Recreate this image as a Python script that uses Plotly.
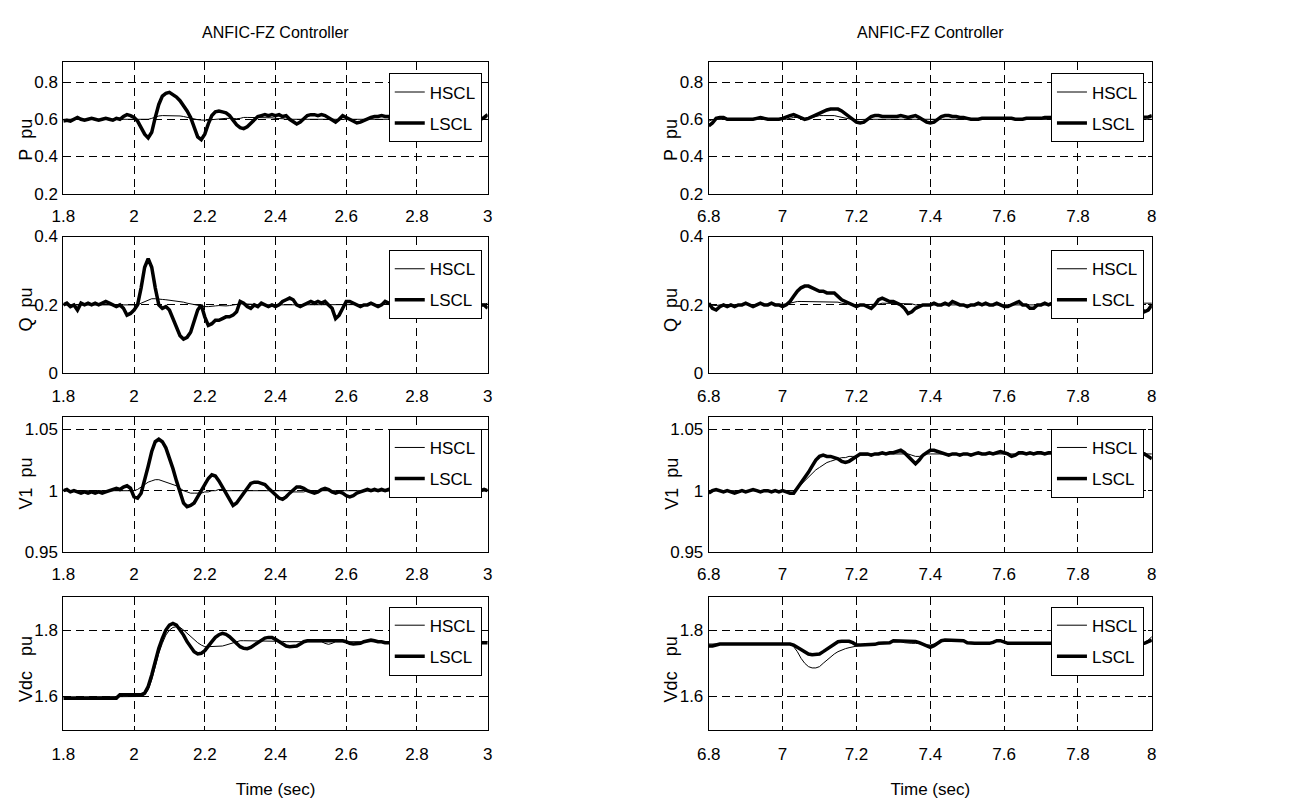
import numpy as np
import plotly.graph_objects as go

# ---------------------------------------------------------------- time bases
t_fault = np.round(np.arange(1.80, 3.0001, 0.01), 2)   # 1.80 ... 3.00 s
t_step = np.round(np.arange(6.80, 8.0001, 0.01), 2)    # 6.80 ... 8.00 s

# ---------------------------------------------------------------- left column (1.8 - 3 s)
p_lscl_a = [
    0.590, 0.595, 0.590, 0.600, 0.610, 0.600, 0.595, 0.600, 0.605, 0.600,
    0.595, 0.600, 0.605, 0.600, 0.595, 0.605, 0.600, 0.615, 0.625, 0.620,
    0.610, 0.590, 0.555, 0.520, 0.500, 0.530, 0.610, 0.680, 0.725, 0.740,
    0.745, 0.735, 0.720, 0.700, 0.675, 0.645, 0.610, 0.555, 0.505, 0.490,
    0.520, 0.575, 0.620, 0.640, 0.645, 0.640, 0.635, 0.620, 0.595, 0.570,
    0.555, 0.550, 0.560, 0.580, 0.600, 0.615, 0.620, 0.625, 0.620, 0.625,
    0.620, 0.625, 0.615, 0.620, 0.600, 0.585, 0.575, 0.585, 0.600, 0.620,
    0.625, 0.625, 0.620, 0.625, 0.620, 0.610, 0.600, 0.585, 0.600, 0.620,
    0.610, 0.600, 0.590, 0.580, 0.585, 0.595, 0.600, 0.610, 0.615, 0.615,
    0.620, 0.615, 0.615, 0.600, 0.595, 0.600, 0.595, 0.600, 0.595, 0.590,
    0.595, 0.600, 0.595, 0.590, 0.600, 0.595, 0.600, 0.595, 0.600, 0.595,
    0.590, 0.595, 0.600, 0.595, 0.600, 0.595, 0.590, 0.595, 0.600, 0.610,
    0.625,
]
p_hscl_a = [
    0.600, 0.600, 0.600, 0.600, 0.600, 0.600, 0.600, 0.600, 0.600, 0.600,
    0.600, 0.600, 0.600, 0.600, 0.600, 0.600, 0.600, 0.600, 0.600, 0.600,
    0.600, 0.600, 0.598, 0.598, 0.600, 0.605, 0.612, 0.618, 0.620, 0.620,
    0.620, 0.620, 0.620, 0.618, 0.615, 0.610, 0.605, 0.600, 0.598, 0.596,
    0.595, 0.595, 0.598, 0.600, 0.605, 0.605, 0.605, 0.605, 0.603, 0.603,
    0.605, 0.610, 0.610, 0.610, 0.610, 0.608, 0.608, 0.610, 0.610, 0.608,
    0.605, 0.605, 0.603, 0.600, 0.600, 0.600, 0.600, 0.600, 0.600, 0.600,
    0.600, 0.600, 0.600, 0.600, 0.600, 0.600, 0.600, 0.600, 0.600, 0.600,
    0.600, 0.600, 0.600, 0.600, 0.600, 0.600, 0.600, 0.600, 0.600, 0.600,
    0.600, 0.600, 0.600, 0.600, 0.600, 0.600, 0.600, 0.600, 0.600, 0.600,
    0.600, 0.600, 0.600, 0.600, 0.600, 0.600, 0.600, 0.600, 0.600, 0.600,
    0.600, 0.600, 0.600, 0.600, 0.600, 0.600, 0.600, 0.600, 0.600, 0.600,
    0.600,
]
q_lscl_a = [
    0.200, 0.205, 0.195, 0.200, 0.185, 0.205, 0.200, 0.205, 0.200, 0.205,
    0.200, 0.205, 0.210, 0.205, 0.200, 0.195, 0.200, 0.190, 0.170, 0.175,
    0.185, 0.200, 0.250, 0.310, 0.335, 0.310, 0.250, 0.200, 0.190, 0.195,
    0.185, 0.160, 0.130, 0.110, 0.100, 0.105, 0.120, 0.150, 0.185, 0.200,
    0.165, 0.140, 0.145, 0.155, 0.155, 0.160, 0.165, 0.165, 0.170, 0.180,
    0.210, 0.205, 0.195, 0.190, 0.200, 0.195, 0.205, 0.200, 0.195, 0.200,
    0.195, 0.200, 0.210, 0.215, 0.220, 0.215, 0.200, 0.195, 0.200, 0.205,
    0.210, 0.205, 0.210, 0.205, 0.210, 0.200, 0.190, 0.160, 0.170, 0.190,
    0.210, 0.210, 0.205, 0.200, 0.195, 0.200, 0.200, 0.205, 0.200, 0.195,
    0.200, 0.210, 0.205, 0.200, 0.195, 0.200, 0.205, 0.200, 0.200, 0.205,
    0.200, 0.195, 0.200, 0.205, 0.200, 0.200, 0.195, 0.200, 0.205, 0.200,
    0.200, 0.205, 0.200, 0.195, 0.200, 0.200, 0.205, 0.200, 0.200, 0.200,
    0.190,
]
q_hscl_a = [
    0.200, 0.200, 0.200, 0.200, 0.200, 0.200, 0.200, 0.200, 0.200, 0.200,
    0.200, 0.200, 0.200, 0.200, 0.200, 0.200, 0.200, 0.200, 0.200, 0.200,
    0.200, 0.200, 0.205, 0.210, 0.215, 0.218, 0.218, 0.216, 0.216, 0.215,
    0.214, 0.213, 0.212, 0.210, 0.208, 0.205, 0.203, 0.200, 0.198, 0.197,
    0.195, 0.195, 0.195, 0.197, 0.198, 0.197, 0.197, 0.198, 0.200, 0.202,
    0.203, 0.203, 0.203, 0.202, 0.202, 0.201, 0.200, 0.200, 0.200, 0.200,
    0.200, 0.200, 0.200, 0.200, 0.200, 0.200, 0.200, 0.200, 0.200, 0.200,
    0.200, 0.200, 0.200, 0.200, 0.200, 0.200, 0.200, 0.200, 0.200, 0.200,
    0.200, 0.200, 0.200, 0.200, 0.200, 0.200, 0.200, 0.200, 0.200, 0.200,
    0.200, 0.200, 0.200, 0.200, 0.200, 0.200, 0.200, 0.200, 0.200, 0.200,
    0.200, 0.200, 0.200, 0.200, 0.200, 0.200, 0.200, 0.200, 0.200, 0.200,
    0.200, 0.200, 0.200, 0.200, 0.200, 0.200, 0.200, 0.200, 0.200, 0.202,
    0.205,
]
v1_lscl_a = [
    1.000, 1.001, 0.999, 1.000, 0.999, 0.998, 0.999, 0.998, 0.999, 0.998,
    0.999, 0.998, 0.999, 1.000, 1.001, 1.002, 1.001, 1.003, 1.004, 1.002,
    0.995, 0.994, 0.998, 1.008, 1.020, 1.032, 1.040, 1.042, 1.040, 1.035,
    1.027, 1.018, 1.008, 0.998, 0.990, 0.987, 0.988, 0.990, 0.995, 1.000,
    1.005, 1.010, 1.013, 1.012, 1.008, 1.003, 0.998, 0.993, 0.988, 0.990,
    0.994, 0.999, 1.003, 1.006, 1.007, 1.007, 1.006, 1.005, 1.002, 0.999,
    0.997, 0.994, 0.993, 0.995, 0.998, 1.001, 1.003, 1.003, 1.002, 1.000,
    0.999, 0.998, 0.999, 1.001, 1.002, 1.001, 0.999, 0.998, 0.999, 0.998,
    0.996, 0.995, 0.996, 0.998, 0.999, 1.000, 1.001, 1.000, 1.001, 1.000,
    1.001, 1.000, 1.001, 1.000, 0.999, 1.000, 1.001, 1.002, 1.001, 1.002,
    1.001, 1.000, 1.001, 1.000, 1.001, 1.002, 1.001, 1.000, 1.001, 1.000,
    1.001, 1.000, 1.001, 1.000, 1.000, 1.001, 1.000, 1.001, 1.000, 1.001,
    1.000,
]
v1_hscl_a = [
    1.000, 1.000, 1.000, 1.000, 1.000, 1.000, 1.000, 1.000, 1.000, 1.000,
    1.000, 1.000, 1.000, 1.000, 1.000, 1.000, 1.000, 1.000, 1.000, 1.000,
    1.000, 1.001, 1.003, 1.005, 1.007, 1.008, 1.009, 1.009, 1.008, 1.007,
    1.006, 1.005, 1.004, 1.002, 1.000, 0.999, 0.998, 0.998, 0.998, 0.998,
    0.999, 0.999, 1.000, 1.000, 1.001, 1.001, 1.000, 1.000, 1.000, 1.000,
    1.000, 1.000, 1.000, 1.000, 1.000, 1.000, 1.000, 1.000, 1.000, 1.000,
    1.000, 1.000, 1.000, 1.000, 1.000, 0.999, 0.999, 0.999, 0.999, 1.000,
    1.000, 1.000, 1.000, 1.000, 1.000, 1.000, 1.000, 1.000, 1.000, 1.000,
    1.000, 1.000, 1.000, 1.000, 1.000, 1.000, 1.000, 1.000, 1.000, 1.000,
    1.000, 1.000, 1.000, 1.000, 1.000, 1.000, 1.000, 1.000, 1.000, 1.000,
    1.000, 1.000, 1.000, 1.000, 1.000, 1.000, 1.000, 1.000, 1.000, 1.000,
    1.000, 1.000, 1.000, 1.000, 1.000, 1.000, 1.000, 1.000, 1.000, 1.000,
    1.000,
]
vdc_lscl_a = [
    1.595, 1.595, 1.595, 1.595, 1.595, 1.595, 1.595, 1.595, 1.595, 1.595,
    1.595, 1.595, 1.595, 1.595, 1.595, 1.595, 1.605, 1.605, 1.605, 1.605,
    1.605, 1.605, 1.605, 1.610, 1.630, 1.665, 1.705, 1.745, 1.775, 1.800,
    1.815, 1.820, 1.815, 1.800, 1.785, 1.765, 1.750, 1.735, 1.728, 1.730,
    1.738, 1.750, 1.765, 1.778, 1.786, 1.790, 1.787, 1.780, 1.770, 1.760,
    1.750, 1.745, 1.744, 1.748, 1.755, 1.765, 1.772, 1.776, 1.778, 1.778,
    1.772, 1.765, 1.758, 1.752, 1.750, 1.750, 1.752, 1.758, 1.765, 1.768,
    1.768, 1.768, 1.768, 1.767, 1.768, 1.768, 1.768, 1.767, 1.768, 1.768,
    1.765, 1.760, 1.758, 1.758, 1.760, 1.765, 1.768, 1.770, 1.768, 1.765,
    1.765, 1.762, 1.762, 1.762, 1.762, 1.762, 1.762, 1.762, 1.762, 1.762,
    1.762, 1.762, 1.762, 1.762, 1.762, 1.762, 1.762, 1.762, 1.762, 1.762,
    1.762, 1.762, 1.762, 1.762, 1.762, 1.762, 1.762, 1.762, 1.762, 1.762,
    1.762,
]
vdc_hscl_a = [
    1.598, 1.598, 1.598, 1.598, 1.598, 1.598, 1.598, 1.598, 1.598, 1.598,
    1.598, 1.598, 1.598, 1.598, 1.598, 1.598, 1.598, 1.598, 1.598, 1.598,
    1.600, 1.600, 1.600, 1.605, 1.620, 1.650, 1.690, 1.730, 1.760, 1.785,
    1.800, 1.808, 1.810, 1.808, 1.800, 1.790, 1.780, 1.770, 1.762, 1.755,
    1.750, 1.750, 1.750, 1.750, 1.750, 1.752, 1.755, 1.758, 1.762, 1.765,
    1.768, 1.768, 1.768, 1.768, 1.768, 1.768, 1.768, 1.768, 1.768, 1.768,
    1.768, 1.768, 1.766, 1.765, 1.765, 1.765, 1.765, 1.765, 1.765, 1.765,
    1.765, 1.765, 1.765, 1.765, 1.760, 1.757, 1.760, 1.765, 1.765, 1.765,
    1.765, 1.765, 1.765, 1.765, 1.765, 1.765, 1.765, 1.765, 1.765, 1.765,
    1.765, 1.765, 1.765, 1.765, 1.765, 1.765, 1.765, 1.765, 1.765, 1.765,
    1.765, 1.765, 1.765, 1.765, 1.765, 1.765, 1.765, 1.765, 1.765, 1.765,
    1.765, 1.765, 1.765, 1.765, 1.765, 1.765, 1.765, 1.765, 1.765, 1.765,
    1.765,
]

# ---------------------------------------------------------------- right column (6.8 - 8 s)
p_lscl_b = [
    0.565, 0.580, 0.605, 0.610, 0.610, 0.600, 0.600, 0.600, 0.600, 0.600,
    0.600, 0.600, 0.600, 0.605, 0.610, 0.605, 0.600, 0.600, 0.600, 0.600,
    0.605, 0.615, 0.620, 0.625, 0.615, 0.605, 0.600, 0.605, 0.615, 0.625,
    0.635, 0.640, 0.650, 0.655, 0.655, 0.655, 0.645, 0.630, 0.610, 0.595,
    0.585, 0.580, 0.585, 0.600, 0.615, 0.620, 0.620, 0.615, 0.615, 0.615,
    0.615, 0.615, 0.620, 0.615, 0.610, 0.615, 0.620, 0.610, 0.595, 0.585,
    0.580, 0.585, 0.600, 0.615, 0.620, 0.620, 0.615, 0.615, 0.610, 0.610,
    0.605, 0.600, 0.600, 0.600, 0.605, 0.605, 0.605, 0.605, 0.605, 0.605,
    0.605, 0.605, 0.605, 0.600, 0.600, 0.600, 0.605, 0.605, 0.605, 0.605,
    0.605, 0.610, 0.610, 0.610, 0.610, 0.610, 0.610, 0.610, 0.610, 0.610,
    0.610, 0.610, 0.610, 0.610, 0.610, 0.610, 0.610, 0.610, 0.610, 0.610,
    0.610, 0.610, 0.610, 0.610, 0.610, 0.610, 0.610, 0.610, 0.610, 0.612,
    0.620,
]
p_hscl_b = [
    0.590, 0.598, 0.600, 0.600, 0.600, 0.600, 0.600, 0.600, 0.600, 0.600,
    0.600, 0.600, 0.600, 0.600, 0.600, 0.600, 0.600, 0.600, 0.600, 0.600,
    0.600, 0.600, 0.605, 0.610, 0.610, 0.605, 0.600, 0.605, 0.610, 0.615,
    0.620, 0.620, 0.620, 0.620, 0.620, 0.615, 0.610, 0.605, 0.600, 0.598,
    0.598, 0.600, 0.600, 0.600, 0.600, 0.600, 0.600, 0.600, 0.600, 0.600,
    0.600, 0.600, 0.600, 0.600, 0.600, 0.600, 0.600, 0.600, 0.598, 0.596,
    0.596, 0.598, 0.600, 0.600, 0.600, 0.600, 0.600, 0.600, 0.600, 0.600,
    0.600, 0.600, 0.600, 0.600, 0.600, 0.600, 0.600, 0.600, 0.600, 0.600,
    0.600, 0.600, 0.600, 0.600, 0.600, 0.600, 0.600, 0.600, 0.600, 0.600,
    0.600, 0.600, 0.600, 0.600, 0.600, 0.600, 0.600, 0.600, 0.600, 0.600,
    0.600, 0.600, 0.600, 0.600, 0.600, 0.600, 0.600, 0.600, 0.600, 0.600,
    0.600, 0.600, 0.600, 0.600, 0.600, 0.600, 0.600, 0.600, 0.600, 0.600,
    0.600,
]
q_lscl_b = [
    0.205, 0.190, 0.185, 0.195, 0.200, 0.195, 0.200, 0.195, 0.200, 0.200,
    0.205, 0.200, 0.195, 0.200, 0.205, 0.200, 0.200, 0.205, 0.200, 0.200,
    0.195, 0.200, 0.210, 0.225, 0.240, 0.250, 0.255, 0.255, 0.250, 0.245,
    0.240, 0.240, 0.235, 0.235, 0.235, 0.225, 0.215, 0.210, 0.205, 0.200,
    0.195, 0.200, 0.200, 0.195, 0.190, 0.200, 0.215, 0.220, 0.215, 0.210,
    0.210, 0.205, 0.200, 0.190, 0.175, 0.180, 0.190, 0.195, 0.200, 0.200,
    0.200, 0.205, 0.200, 0.200, 0.205, 0.200, 0.210, 0.205, 0.200, 0.200,
    0.195, 0.200, 0.200, 0.205, 0.200, 0.205, 0.200, 0.200, 0.205, 0.200,
    0.195, 0.195, 0.200, 0.205, 0.210, 0.200, 0.200, 0.190, 0.190, 0.200,
    0.200, 0.205, 0.200, 0.205, 0.200, 0.200, 0.200, 0.205, 0.200, 0.200,
    0.200, 0.205, 0.200, 0.200, 0.200, 0.205, 0.200, 0.200, 0.205, 0.200,
    0.200, 0.200, 0.200, 0.200, 0.200, 0.200, 0.200, 0.190, 0.180, 0.185,
    0.200,
]
q_hscl_b = [
    0.200, 0.198, 0.198, 0.200, 0.200, 0.200, 0.200, 0.200, 0.200, 0.200,
    0.200, 0.200, 0.200, 0.200, 0.200, 0.200, 0.200, 0.200, 0.200, 0.200,
    0.200, 0.202, 0.205, 0.208, 0.210, 0.210, 0.210, 0.210, 0.210, 0.210,
    0.210, 0.210, 0.210, 0.208, 0.210, 0.208, 0.205, 0.203, 0.202, 0.200,
    0.200, 0.200, 0.200, 0.200, 0.200, 0.200, 0.202, 0.205, 0.205, 0.205,
    0.205, 0.205, 0.205, 0.205, 0.205, 0.203, 0.200, 0.200, 0.200, 0.200,
    0.200, 0.200, 0.200, 0.200, 0.200, 0.200, 0.200, 0.200, 0.200, 0.200,
    0.200, 0.200, 0.200, 0.200, 0.200, 0.200, 0.200, 0.200, 0.200, 0.200,
    0.200, 0.200, 0.200, 0.200, 0.200, 0.200, 0.200, 0.200, 0.200, 0.200,
    0.200, 0.200, 0.200, 0.200, 0.200, 0.200, 0.200, 0.200, 0.200, 0.200,
    0.200, 0.200, 0.200, 0.200, 0.200, 0.200, 0.200, 0.200, 0.200, 0.200,
    0.200, 0.200, 0.200, 0.200, 0.200, 0.200, 0.200, 0.200, 0.205, 0.205,
    0.205,
]
v1_lscl_b = [
    0.998, 1.000, 1.001, 1.000, 0.999, 1.000, 0.999, 0.998, 0.999, 1.000,
    0.999, 1.000, 1.001, 1.000, 0.999, 1.000, 1.000, 0.999, 1.000, 0.999,
    1.000, 0.999, 0.998, 0.998, 1.002, 1.006, 1.010, 1.015, 1.020, 1.025,
    1.028, 1.029, 1.028, 1.028, 1.027, 1.026, 1.024, 1.023, 1.024, 1.026,
    1.028, 1.030, 1.030, 1.030, 1.029, 1.030, 1.030, 1.031, 1.030, 1.031,
    1.031, 1.032, 1.033, 1.031, 1.028, 1.024, 1.022, 1.025, 1.029, 1.031,
    1.033, 1.033, 1.032, 1.031, 1.030, 1.029, 1.030, 1.030, 1.029, 1.030,
    1.030, 1.029, 1.030, 1.031, 1.030, 1.030, 1.031, 1.030, 1.031, 1.032,
    1.031, 1.030, 1.028, 1.029, 1.031, 1.031, 1.030, 1.031, 1.030, 1.031,
    1.031, 1.030, 1.031, 1.031, 1.030, 1.031, 1.032, 1.031, 1.032, 1.031,
    1.031, 1.032, 1.031, 1.032, 1.031, 1.031, 1.032, 1.031, 1.031, 1.032,
    1.032, 1.031, 1.032, 1.031, 1.031, 1.032, 1.031, 1.031, 1.030, 1.028,
    1.026,
]
v1_hscl_b = [
    1.000, 1.000, 1.000, 1.000, 1.000, 1.000, 1.000, 1.000, 1.000, 1.000,
    1.000, 1.000, 1.000, 1.000, 1.000, 1.000, 1.000, 1.000, 1.000, 1.000,
    1.000, 1.000, 1.000, 1.000, 1.002, 1.005, 1.008, 1.011, 1.014, 1.017,
    1.019, 1.021, 1.023, 1.024, 1.025, 1.026, 1.027, 1.027, 1.028, 1.028,
    1.028, 1.029, 1.029, 1.029, 1.030, 1.030, 1.030, 1.030, 1.030, 1.030,
    1.030, 1.030, 1.030, 1.030, 1.030, 1.029, 1.028, 1.028, 1.029, 1.030,
    1.030, 1.030, 1.030, 1.030, 1.030, 1.030, 1.030, 1.030, 1.030, 1.030,
    1.030, 1.030, 1.030, 1.030, 1.030, 1.030, 1.030, 1.030, 1.030, 1.030,
    1.030, 1.030, 1.030, 1.030, 1.030, 1.030, 1.030, 1.030, 1.030, 1.030,
    1.030, 1.030, 1.030, 1.030, 1.030, 1.030, 1.030, 1.030, 1.030, 1.030,
    1.030, 1.030, 1.030, 1.030, 1.030, 1.030, 1.030, 1.030, 1.030, 1.030,
    1.030, 1.030, 1.030, 1.030, 1.030, 1.030, 1.030, 1.030, 1.030, 1.030,
    1.030,
]
vdc_lscl_b = [
    1.752, 1.752, 1.755, 1.758, 1.758, 1.758, 1.758, 1.758, 1.758, 1.758,
    1.758, 1.758, 1.758, 1.758, 1.758, 1.758, 1.758, 1.758, 1.758, 1.758,
    1.758, 1.758, 1.758, 1.755, 1.748, 1.740, 1.733, 1.728, 1.726, 1.726,
    1.728, 1.735, 1.743, 1.752, 1.760, 1.765, 1.766, 1.766, 1.766, 1.762,
    1.755, 1.755, 1.755, 1.755, 1.755, 1.757, 1.760, 1.760, 1.760, 1.762,
    1.768, 1.768, 1.768, 1.768, 1.768, 1.768, 1.766, 1.762, 1.758, 1.752,
    1.748, 1.753, 1.760, 1.768, 1.770, 1.770, 1.770, 1.770, 1.770, 1.768,
    1.762, 1.760, 1.760, 1.760, 1.760, 1.760, 1.760, 1.763, 1.768, 1.768,
    1.763, 1.760, 1.760, 1.760, 1.760, 1.760, 1.760, 1.760, 1.760, 1.760,
    1.760, 1.760, 1.760, 1.760, 1.760, 1.760, 1.760, 1.760, 1.760, 1.760,
    1.760, 1.760, 1.760, 1.760, 1.760, 1.760, 1.760, 1.760, 1.760, 1.760,
    1.760, 1.760, 1.760, 1.760, 1.760, 1.760, 1.760, 1.760, 1.760, 1.765,
    1.770,
]
vdc_hscl_b = [
    1.758, 1.758, 1.758, 1.758, 1.758, 1.758, 1.758, 1.758, 1.758, 1.758,
    1.758, 1.758, 1.758, 1.758, 1.758, 1.758, 1.758, 1.758, 1.758, 1.758,
    1.758, 1.758, 1.758, 1.750, 1.735, 1.715, 1.700, 1.690, 1.686, 1.686,
    1.690, 1.700, 1.710, 1.720, 1.728, 1.735, 1.740, 1.744, 1.747, 1.750,
    1.752, 1.754, 1.755, 1.755, 1.755, 1.757, 1.760, 1.760, 1.760, 1.762,
    1.765, 1.765, 1.765, 1.762, 1.760, 1.760, 1.760, 1.760, 1.758, 1.755,
    1.755, 1.758, 1.762, 1.768, 1.768, 1.768, 1.768, 1.768, 1.768, 1.766,
    1.762, 1.760, 1.760, 1.760, 1.760, 1.760, 1.760, 1.763, 1.766, 1.766,
    1.762, 1.762, 1.762, 1.762, 1.762, 1.762, 1.762, 1.762, 1.762, 1.762,
    1.762, 1.762, 1.762, 1.762, 1.762, 1.762, 1.762, 1.762, 1.762, 1.762,
    1.762, 1.762, 1.762, 1.762, 1.762, 1.762, 1.762, 1.762, 1.762, 1.762,
    1.762, 1.762, 1.762, 1.762, 1.762, 1.762, 1.762, 1.762, 1.762, 1.770,
    1.780,
]

# ---------------------------------------------------------------- axis settings
x_ticks_a = [1.8, 2.0, 2.2, 2.4, 2.6, 2.8, 3.0]
x_labels_a = ["1.8", "2", "2.2", "2.4", "2.6", "2.8", "3"]
x_ticks_b = [6.8, 7.0, 7.2, 7.4, 7.6, 7.8, 8.0]
x_labels_b = ["6.8", "7", "7.2", "7.4", "7.6", "7.8", "8"]

quantities = [
    # (label, range, ticks, tick labels)
    ("P\u00a0\u00a0pu", [0.2, 0.91], [0.2, 0.4, 0.6, 0.8], ["0.2", "0.4", "0.6", "0.8"]),
    ("Q\u00a0\u00a0pu", [0.0, 0.4], [0.0, 0.2, 0.4], ["0", "0.2", "0.4"]),
    ("V1\u00a0\u00a0pu", [0.95, 1.06], [0.95, 1.0, 1.05], ["0.95", "1", "1.05"]),
    ("Vdc\u00a0\u00a0\u00a0pu", [1.5, 1.9], [1.6, 1.8], ["1.6", "1.8"]),
]
series_a = [(p_hscl_a, p_lscl_a), (q_hscl_a, q_lscl_a),
            (v1_hscl_a, v1_lscl_a), (vdc_hscl_a, vdc_lscl_a)]
series_b = [(p_hscl_b, p_lscl_b), (q_hscl_b, q_lscl_b),
            (v1_hscl_b, v1_lscl_b), (vdc_hscl_b, vdc_lscl_b)]

W, H = 1296, 810
FONT = "Liberation Sans Narrow, Arial Narrow, Liberation Sans, Arial, sans-serif"
cols_px = [(52, 482), (706, 1155)]
rows_px = [(54, 189), (233, 373), (418, 556), (602, 738)]
legend_top_px = [66, 247, 430, 612]
legend_right_px = [476, 1147]
ylabel_x_px = [14, 668]
ylabel_y_px = [134, 308, 486, 676]

fig = go.Figure()
layout = dict(
    width=W, height=H, autosize=False,
    margin=dict(l=0, r=0, t=0, b=0),
    paper_bgcolor="white", plot_bgcolor="white",
    font=dict(family=FONT, size=17, color="black"),
    annotations=[],
)

panel = 0
for r, (ylab, yrange, yt, ytt) in enumerate(quantities):
    for c in range(2):
        panel += 1
        sfx = "" if panel == 1 else str(panel)
        t = t_fault if c == 0 else t_step
        hscl, lscl = (series_a if c == 0 else series_b)[r]
        leg = "legend" + sfx

        fig.add_trace(go.Scatter(
            x=t, y=hscl, mode="lines", name="HSCL",
            line=dict(color="black", width=1),
            xaxis="x" + sfx, yaxis="y" + sfx,
            legend=leg, legendgroup="h%d" % panel,
        ))
        fig.add_trace(go.Scatter(
            x=t, y=lscl, mode="lines", name="LSCL",
            line=dict(color="black", width=3.5),
            xaxis="x" + sfx, yaxis="y" + sfx,
            legend=leg, legendgroup="l%d" % panel,
        ))

        x0, x1 = cols_px[c]
        top, bot = rows_px[r]
        axis_common = dict(
            showline=True, linecolor="black", linewidth=1, mirror="ticks",
            ticks="inside", ticklen=4, tickcolor="black",
            showgrid=True, gridcolor="black", gridwidth=0.8, griddash="8px,5px",
            zeroline=False, tickfont=dict(family=FONT, size=17, color="black"),
        )
        layout["xaxis" + sfx] = dict(
            axis_common,
            domain=[x0 / W, x1 / W], anchor="y" + sfx,
            range=[1.8, 3.0] if c == 0 else [6.8, 8.0],
            tickvals=x_ticks_a if c == 0 else x_ticks_b,
            ticktext=x_labels_a if c == 0 else x_labels_b,
            ticklabelstandoff=9 if r == 3 else 7,
        )
        if r == 3:
            layout["xaxis" + sfx]["title"] = dict(
                text="Time (sec)", standoff=20,
                font=dict(family=FONT, size=17, color="black"))
        layout["yaxis" + sfx] = dict(
            axis_common,
            domain=[1 - bot / H, 1 - top / H], anchor="x" + sfx,
            range=yrange, tickvals=yt, ticktext=ytt,
            ticklabelstandoff=1,
        )
        layout[leg] = dict(
            x=legend_right_px[c] / W, xanchor="right",
            y=1 - legend_top_px[r] / H, yanchor="top",
            bgcolor="white", bordercolor="black", borderwidth=1,
            font=dict(family=FONT, size=17, color="black"),
            tracegroupgap=6, traceorder="grouped",
            itemwidth=30,
        )
        layout["annotations"].append(dict(
            text=ylab, textangle=-90, showarrow=False,
            xref="paper", yref="paper",
            x=ylabel_x_px[c] / W, y=1 - ylabel_y_px[r] / H,
            xanchor="center", yanchor="middle",
            font=dict(family=FONT, size=18, color="black"),
        ))

# column headings
for c in range(2):
    x0, x1 = cols_px[c]
    layout["annotations"].append(dict(
        text="ANFIC-FZ Controller", showarrow=False,
        xref="paper", yref="paper",
        x=(x0 + x1) / 2 / W, y=1 - 24 / H,
        xanchor="center", yanchor="middle",
        font=dict(family=FONT, size=16, color="black"),
    ))

fig.update_layout(**layout)
fig.write_html("out.html")
